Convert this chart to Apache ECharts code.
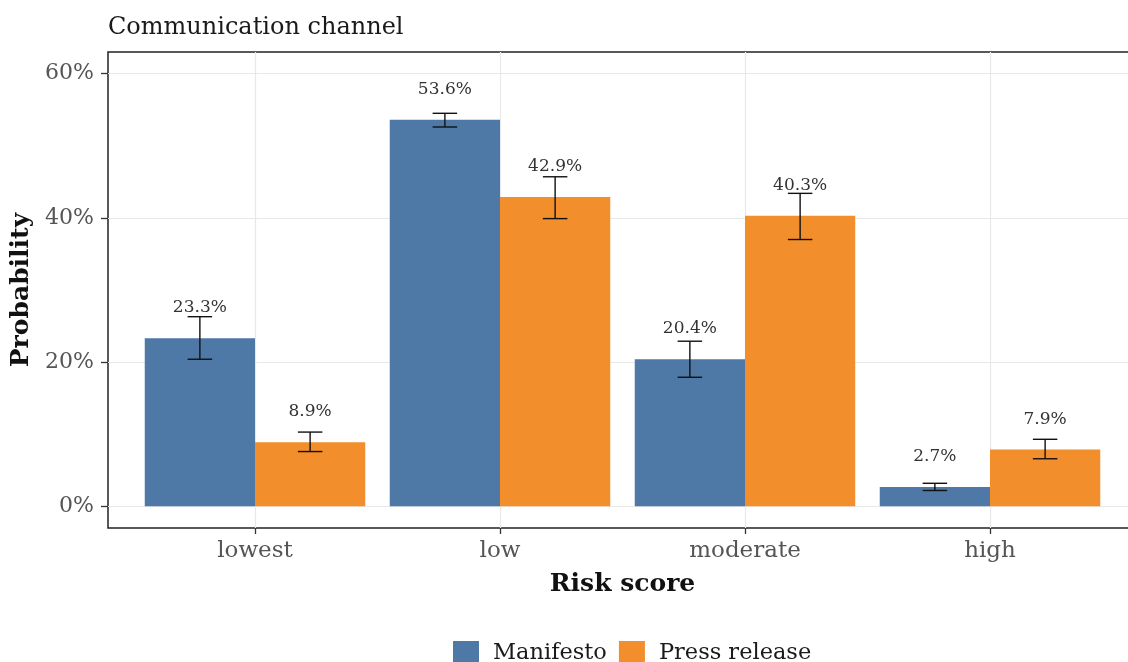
<!DOCTYPE html>
<html>
<head>
<meta charset="utf-8">
<title>Communication channel</title>
<script src="https://cdn.jsdelivr.net/npm/echarts@6/dist/echarts.min.js"></script>
<style>
  html, body { margin: 0; padding: 0; background: #fff; }
  #chart { width: 1128px; height: 662px; }
</style>
</head>
<body>
<div id="chart"></div>
<script>
// Risk score categories and predicted probabilities (%) with interval bounds
const categories = ['lowest', 'low', 'moderate', 'high'];
const manifesto = [23.3, 53.6, 20.4, 2.7];
const manifestoLow = [20.4, 52.6, 17.9, 2.2];
const manifestoHigh = [26.3, 54.5, 22.9, 3.2];
const pressRelease = [8.9, 42.9, 40.3, 7.9];
const pressLow = [7.6, 39.9, 37.0, 6.6];
const pressHigh = [10.3, 45.7, 43.4, 9.3];
const yTicks = [0, 20, 40, 60];

const FONT = '"DejaVu Serif", "Liberation Serif", serif';
const BAR_W = 0.45;     // bar width in category units
const CAP_W = 0.1;      // error bar cap width in category units
const LABEL_LIFT = 4.2; // label offset above bar top, in % units

function groupSeries(name, color, values, lows, highs, shift) {
  const data = values.map((v, i) => [i + 1 + shift, v, lows[i], highs[i]]);
  return {
    name: name,
    type: 'custom',
    itemStyle: { color: color },
    data: data,
    encode: { x: 0, y: [1, 2, 3] },
    renderItem: function (params, api) {
      const x = api.value(0), v = api.value(1), lo = api.value(2), hi = api.value(3);
      const base = api.coord([x - BAR_W / 2, 0]);
      const top = api.coord([x + BAR_W / 2, v]);
      const c = api.coord([x, v]);
      const pLo = api.coord([x, lo]);
      const pHi = api.coord([x, hi]);
      const capHalf = api.size([CAP_W, 0])[0] / 2;
      const lab = api.coord([x, v + LABEL_LIFT]);
      const errStyle = { stroke: '#111', lineWidth: 1.4 };
      return {
        type: 'group',
        children: [
          { type: 'rect', shape: { x: base[0], y: top[1], width: top[0] - base[0], height: base[1] - top[1] },
            style: { fill: color } },
          { type: 'line', shape: { x1: c[0], y1: pLo[1], x2: c[0], y2: pHi[1] }, style: errStyle },
          { type: 'line', shape: { x1: c[0] - capHalf, y1: pHi[1], x2: c[0] + capHalf, y2: pHi[1] }, style: errStyle },
          { type: 'line', shape: { x1: c[0] - capHalf, y1: pLo[1], x2: c[0] + capHalf, y2: pLo[1] }, style: errStyle },
          { type: 'text', x: lab[0], y: lab[1],
            style: { text: v.toFixed(1) + '%', align: 'center', verticalAlign: 'middle',
                     fontFamily: FONT, fontSize: 17, fill: '#333' } }
        ]
      };
    }
  };
}

const chart = echarts.init(document.getElementById('chart'), null, { renderer: 'canvas' });
chart.setOption({
  animation: false,
  backgroundColor: '#fff',
  textStyle: { fontFamily: FONT },
  title: {
    text: 'Communication channel',
    left: 103, top: 11,
    textStyle: { fontFamily: FONT, fontSize: 24, fontWeight: 'normal', color: '#1a1a1a' }
  },
  legend: {
    left: 448, top: 636,
    itemWidth: 26, itemHeight: 24, itemGap: 12,
    icon: 'rect',
    textStyle: { fontFamily: FONT, fontSize: 22.5, color: '#1a1a1a', padding: [0, 0, 0, 9] },
    data: ['Manifesto', 'Press release']
  },
  grid: {
    left: 108, top: 52, width: 1029, height: 476,
    outerBoundsMode: 'none',
    show: true, borderColor: '#222', borderWidth: 1.5, backgroundColor: 'transparent'
  },
  xAxis: {
    type: 'value',
    min: 0.4, max: 4.6,
    minInterval: 1, maxInterval: 1,
    name: 'Risk score',
    nameLocation: 'middle', nameGap: 44,
    nameTextStyle: { fontFamily: FONT, fontSize: 25, fontWeight: 'bold', color: '#111' },
    axisLine: { show: false, onZero: false },
    axisTick: { show: true, length: 6, customValues: [1, 2, 3, 4], lineStyle: { color: '#333', width: 1.3 } },
    axisLabel: {
      customValues: [1, 2, 3, 4],
      formatter: v => categories[Math.round(v) - 1] || '',
      margin: 12, fontFamily: FONT, fontSize: 23, color: '#555'
    },
    splitLine: { show: true, lineStyle: { color: '#e8e8e8', width: 1.2 } }
  },
  yAxis: {
    type: 'value',
    min: -3.0, max: 63.0,
    minInterval: 10, maxInterval: 10,
    name: 'Probability',
    nameLocation: 'middle', nameGap: 62,
    nameRotate: 90,
    nameTextStyle: { fontFamily: FONT, fontSize: 25, fontWeight: 'bold', color: '#111' },
    axisLine: { show: false, onZero: false },
    axisTick: { show: true, length: 7, customValues: yTicks, lineStyle: { color: '#333', width: 1.3 } },
    axisLabel: {
      customValues: yTicks,
      formatter: v => v + '%',
      margin: 14, fontFamily: FONT, fontSize: 22, color: '#555'
    },
    splitLine: { show: true, lineStyle: { color: '#e8e8e8', width: 1.2 } }
  },
  series: [
    groupSeries('Manifesto', '#4E79A7', manifesto, manifestoLow, manifestoHigh, -BAR_W / 2),
    groupSeries('Press release', '#F28E2B', pressRelease, pressLow, pressHigh, BAR_W / 2)
  ]
});
</script>
</body>
</html>
